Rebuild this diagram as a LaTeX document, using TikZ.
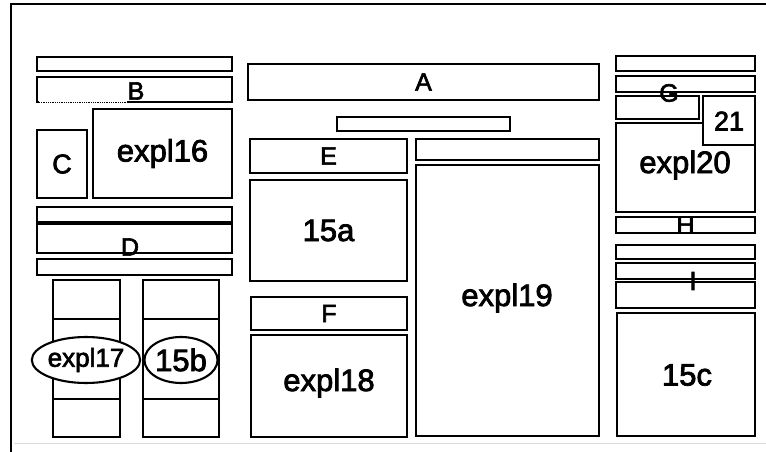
\documentclass[tikz,border=0pt]{standalone}
\usepackage{fontspec}
\setmainfont{Liberation Sans}[FakeBold=2.5]
\usetikzlibrary{fit,shapes.geometric}
\newcommand\rbx[5]{\node[boxst, fit={(#2,#3)(#4,#5)}] (#1) {};}
\begin{document}
\begin{tikzpicture}[x=1pt,y=-1pt,
  boxst/.style={draw, line width=2.1pt, inner sep=0pt, fill=white},
  big/.style={font=\fontsize{31}{31}\selectfont, inner sep=0pt},
  mid/.style={font=\fontsize{27}{27}\selectfont, inner sep=0pt},
  small/.style={font=\fontsize{25}{25}\selectfont, inner sep=0pt},
  ell/.style={ellipse, draw, line width=2.1pt, fill=white, inner sep=0pt},
  rule/.style={line width=2.1pt}]
\useasboundingbox (0,0) rectangle (766,452);
% frame
\draw[line width=2.1pt] (766,4) -- (11,4) -- (11,452);
\draw[black!15, line width=1pt] (14,443) -- (766,443);
% ---------- left column
\rbx{L1}{37}{57}{232}{71}
\rbx{Bb}{37}{77}{232}{102}
\draw[white, line width=2.6pt] (39,102) -- (127,102);
\draw[densely dotted, line width=0.8pt] (39,102) -- (127,102);
\rbx{Cb}{37}{130}{87}{198}
\rbx{e16}{93}{109}{232}{198}
\rbx{D1}{37}{207}{232}{222}
\rbx{Db}{37}{224}{232}{253}
\rbx{D3}{37}{259}{232}{275}
\rbx{c17}{53}{280}{120}{437}
\draw[rule] (53,319) -- (120,319) (53,399) -- (120,399);
\rbx{c15b}{143}{280}{219}{437}
\draw[rule] (143,319) -- (219,319) (143,399) -- (219,399) (143,360) -- (219,360);
\node[ell, minimum width=99pt, minimum height=46pt, font=\fontsize{26}{26}\selectfont] (e17) at (86,360) {expl17};
\node[ell, minimum width=62pt, minimum height=46pt, font=\fontsize{31}{31}\selectfont] (b15) at (181,360) {15b};
% ---------- middle column
\rbx{Ab}{248}{64}{599}{100}
\rbx{sm}{337}{117}{510}{131}
\rbx{Eb}{250}{139}{407}{173}
\rbx{b19}{416}{139}{599}{160}
\rbx{e19}{416}{165}{599}{436}
\rbx{a15}{250}{180}{407}{281}
\rbx{Fb}{251}{297}{407}{330}
\rbx{e18}{251}{335}{407}{437}
% ---------- right column
\rbx{R1}{616}{56}{755}{71}
\rbx{Gb}{616}{76}{755}{92}
\rbx{Gs}{616}{96}{699}{119}
\rbx{e20}{616}{123}{755}{212}
\rbx{n21}{703}{96}{755}{145}
\rbx{Hb}{616}{217}{755}{233}
\rbx{I1}{616}{245}{755}{259}
\rbx{I2}{616}{263}{755}{279}
\rbx{I3}{616}{282}{755}{308}
\rbx{c15}{617}{313}{755}{436}
% ---------- labels (on top)
\node[small] (Bl) at (136,91) {B};
\node[mid] (Cl) at (Cb) {C};
\node[big] (e16l) at (e16) {expl16};
\node[small] (Dl) at (130,247) {D};
\node[small] (Al) at (Ab) {A};
\node[small] (El) at (Eb) {E};
\node[big] (e19l) at (507,298) {expl19};
\node[big] (a15l) at (a15) {15a};
\node[small] (Fl) at (Fb) {F};
\node[big] (e18l) at (329,383) {expl18};
\node[small] (Gl) at (669,93) {G};
\node[big] (e20l) at (685,165) {expl20};
\node[mid] (n21l) at (729,121) {21};
\node[small] (Hl) at (Hb) {H};
\node[font=\fontsize{26}{26}\selectfont, inner sep=0pt] (Il) at (693,281) {I};
\node[big] (c15l) at (687,375) {15c};
\end{tikzpicture}
\end{document}
